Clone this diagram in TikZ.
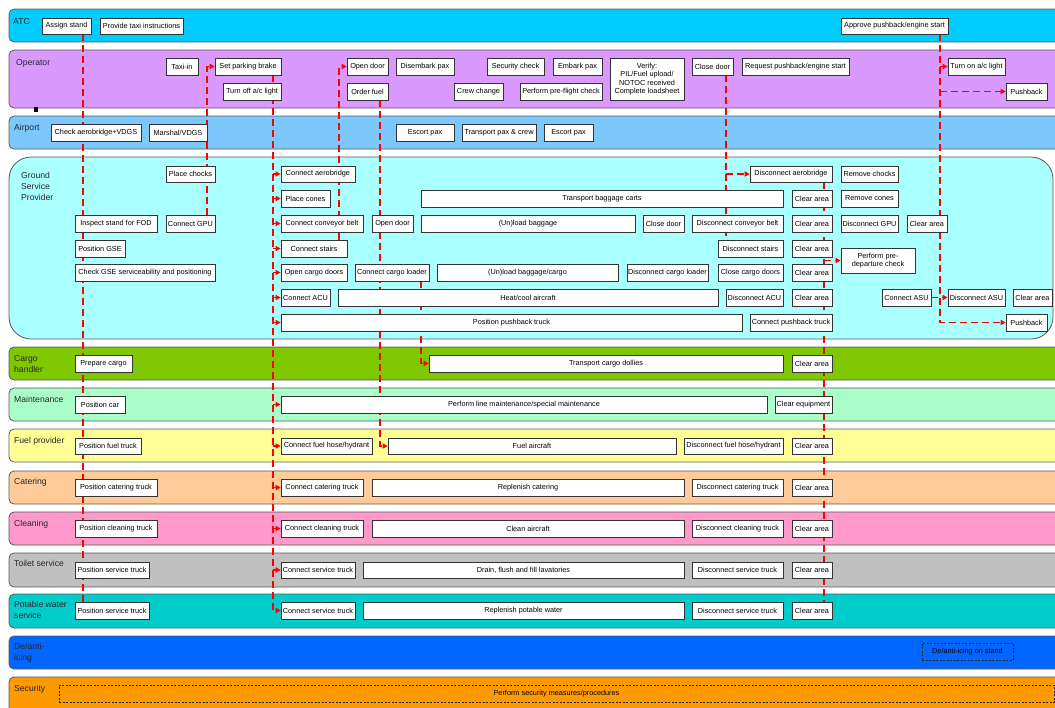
\documentclass[tikz,border=0pt]{standalone}
\usepackage{fontspec}
\setmainfont{Liberation Sans}
\usetikzlibrary{arrows.meta,shadows}
\pgfdeclarelayer{lanes}
\pgfdeclarelayer{links}
\pgfsetlayers{lanes,links,main}
\definecolor{cATC}{RGB}{0,204,255}
\definecolor{cOper}{RGB}{217,153,255}
\definecolor{cAirp}{RGB}{125,199,255}
\definecolor{cGSP}{RGB}{170,255,255}
\definecolor{cCargo}{RGB}{127,200,0}
\definecolor{cMaint}{RGB}{170,255,200}
\definecolor{cFuel}{RGB}{255,255,150}
\definecolor{cCater}{RGB}{255,204,153}
\definecolor{cClean}{RGB}{255,153,204}
\definecolor{cToil}{RGB}{192,192,192}
\definecolor{cWater}{RGB}{0,204,204}
\definecolor{cIce}{RGB}{0,102,255}
\definecolor{cSec}{RGB}{255,153,0}
\definecolor{cLaneEdge}{RGB}{90,90,90}
\definecolor{cLink}{RGB}{255,0,0}
\tikzset{
  lane/.style={draw=cLaneEdge, line width=0.8pt, rounded corners=5pt},
  lanelabel/.style={anchor=base west, inner sep=0pt, text=black!85, font=\fontsize{8.6}{11}\selectfont},
  box/.style={draw=black!80, fill=white, line width=0.6pt, inner sep=0.5pt, align=center,
    font=\fontsize{7.3}{8.4}\selectfont,
    drop shadow={shadow xshift=0.9pt, shadow yshift=-0.9pt, fill=black!40, opacity=1}},
  dbox/.style={draw=black!85, line width=0.5pt, dash pattern=on 2pt off 1.5pt, inner sep=0.5pt,
    align=center, font=\fontsize{7.3}{8.4}\selectfont},
  link/.style={draw=cLink, line width=1.6pt, dash pattern=on 7pt off 4pt},
  arr/.style={-{Triangle[length=5pt,width=5pt]}}
}
\newcommand{\Bx}[6]{\node[box, minimum width={(#4-#2)*1pt}, minimum height={(#5-#3)*1pt}] (#1) at ({(#2+#4)/2},{(#3+#5)/2}) {#6};}
\newcommand{\DBx}[6]{\node[dbox, minimum width={(#4-#2)*1pt}, minimum height={(#5-#3)*1pt}] (#1) at ({(#2+#4)/2},{(#3+#5)/2}) {#6};}
\begin{document}
\begin{tikzpicture}[x=1pt,y=-1pt]
\useasboundingbox (0,0) rectangle (1055,707);
\clip (0,0) rectangle (1055,707);
\begin{pgfonlayer}{lanes}
\fill[white] (0,0) rectangle (1055,707);
\draw[lane, fill=cATC] (9,9) rectangle (1075,42);
\draw[lane, fill=cOper] (9,50) rectangle (1075,108);
\draw[lane, fill=cAirp] (9,116) rectangle (1075,149);
\draw[lane, fill=cGSP, rounded corners=22pt] (9,157) rectangle (1053,339);
\draw[lane, fill=cCargo] (9,347) rectangle (1075,380);
\draw[lane, fill=cMaint] (9,388) rectangle (1075,421);
\draw[lane, fill=cFuel] (9,429) rectangle (1075,462);
\draw[lane, fill=cCater] (9,471) rectangle (1075,504);
\draw[lane, fill=cClean] (9,512) rectangle (1075,545);
\draw[lane, fill=cToil] (9,553) rectangle (1075,587);
\draw[lane, fill=cWater] (9,594) rectangle (1075,628);
\draw[lane, fill=cIce] (9,636) rectangle (1075,669);
\draw[lane, fill=cSec] (9,677) rectangle (1075,725);
\fill[black] (34,107) rectangle (38,112);
\node[lanelabel] (lATC) at (13,24) {ATC};
\node[lanelabel] (lOper) at (16,65) {Operator};
\node[lanelabel] (lAirp) at (14,130) {Airport};
\node[lanelabel] (lGSP) at (21,178) {\vtop{\hbox{Ground}\hbox{Service}\hbox{Provider}}};
\node[lanelabel] (lCargo) at (14,361) {\vtop{\hbox{Cargo}\hbox{handler}}};
\node[lanelabel] (lMaint) at (14,402.5) {Maintenance};
\node[lanelabel] (lFuel) at (14,443.5) {Fuel provider};
\node[lanelabel] (lCater) at (14,484) {Catering};
\node[lanelabel] (lClean) at (14,526) {Cleaning};
\node[lanelabel] (lToil) at (14,566.5) {Toilet service};
\node[lanelabel] (lWater) at (14,607.5) {\vtop{\hbox{Potable water}\hbox{service}}};
\node[lanelabel] (lIce) at (14,649) {\vtop{\hbox{De/anti-}\hbox{icing}}};
\node[lanelabel] (lSec) at (14,691.5) {Security};
\end{pgfonlayer}
% ATC
\Bx{assign}{42}{18}{91}{34}{Assign stand}
\Bx{taxiinstr}{100}{18}{183}{34}{Provide taxi instructions}
\Bx{approve}{841}{18}{948}{34}{Approve pushback/engine start}
% Operator
\Bx{taxiin}{166}{58}{198}{75}{Taxi-in}
\Bx{parkbrake}{215}{58}{281}{75}{Set parking brake}
\Bx{acoff}{223}{83}{281}{100}{Turn off a/c light}
\Bx{opendoorop}{347}{58}{388}{75}{Open door}
\Bx{orderfuel}{347}{83}{388}{100}{Order fuel}
\Bx{disembark}{396}{58}{454}{75}{Disembark pax}
\Bx{seccheck}{487}{58}{544}{75}{Security check}
\Bx{embark}{553}{58}{602}{75}{Embark pax}
\Bx{crewchange}{454}{83}{503}{100}{Crew change}
\Bx{preflight}{520}{83}{602}{100}{Perform pre-flight check}
\Bx{verify}{610}{58}{684}{100}{Verify:\\PIL/Fuel upload/\\NOTOC received\\Complete loadsheet}
\Bx{closedoorop}{692}{58}{733}{75}{Close door}
\Bx{reqpush}{742}{58}{849}{75}{Request pushback/engine start}
\Bx{acon}{948}{58}{1005}{75}{Turn on a/c light}
\Bx{pushop}{1006}{83}{1047}{100}{Pushback}
% Airport
\Bx{checkaero}{51}{124}{141}{141}{Check aerobridge+VDGS}
\Bx{marshal}{149}{124}{207}{141}{Marshal/VDGS}
\Bx{escorta}{396}{124}{454}{141}{Escort pax}
\Bx{transpax}{462}{124}{536}{141}{Transport pax \& crew}
\Bx{escortb}{544}{124}{593}{141}{Escort pax}
% GSP row 1
\Bx{chocks}{166}{166}{215}{182}{Place chocks}
\Bx{conaero}{281}{166}{355}{182}{Connect aerobridge}
\Bx{disaero}{750}{166}{832}{182}{Disconnect aerobridge}
\Bx{remchocks}{841}{166}{898}{182}{Remove chocks}
% row 2
\Bx{cones}{281}{190}{330}{207}{Place cones}
\Bx{bagcarts}{421}{190}{783}{207}{Transport baggage carts}
\Bx{clrb}{792}{190}{832}{207}{Clear area}
\Bx{remcones}{841}{190}{898}{207}{Remove cones}
% row 3
\Bx{fod}{75}{215}{157}{232}{Inspect stand for FOD}
\Bx{congpu}{166}{215}{215}{232}{Connect GPU}
\Bx{conbelt}{281}{215}{363}{232}{Connect conveyor belt}
\Bx{opendoorg}{372}{215}{413}{232}{Open door}
\Bx{unloadbag}{421}{215}{635}{232}{(Un)load baggage}
\Bx{closedoorg}{643}{215}{684}{232}{Close door}
\Bx{disbelt}{692}{215}{783}{232}{Disconnect conveyor belt}
\Bx{clrc}{792}{215}{832}{232}{Clear area}
\Bx{disgpu}{841}{215}{898}{232}{Disconnect GPU}
\Bx{clrcb}{907}{215}{947}{232}{Clear area}
% row 4
\Bx{posgse}{75}{240}{125}{257}{Position GSE}
\Bx{constairs}{281}{240}{347}{257}{Connect stairs}
\Bx{disstairs}{718}{240}{783}{257}{Disconnect stairs}
\Bx{clrd}{792}{240}{832}{257}{Clear area}
\Bx{predep}{841}{248}{915}{273}{Perform pre-\\departure check}
% row 5
\Bx{checkgse}{75}{264}{215}{281}{Check GSE serviceability and positioning}
\Bx{cargodoors}{281}{264}{347}{281}{Open cargo doors}
\Bx{conloader}{355}{264}{429}{281}{Connect cargo loader}
\Bx{unloadcargo}{437}{264}{618}{281}{(Un)load baggage/cargo}
\Bx{disloader}{627}{264}{708}{281}{Disconnect cargo loader}
\Bx{closecargo}{718}{264}{783}{281}{Close cargo doors}
\Bx{clre}{792}{264}{832}{281}{Clear area}
% row 6
\Bx{conacu}{281}{289}{330}{306}{Connect ACU}
\Bx{heatcool}{338}{289}{718}{306}{Heat/cool aircraft}
\Bx{disacu}{726}{289}{783}{306}{Disconnect ACU}
\Bx{clrf}{792}{289}{832}{306}{Clear area}
\Bx{conasu}{882}{289}{931}{306}{Connect ASU}
\Bx{disasu}{948}{289}{1005}{306}{Disconnect ASU}
\Bx{clrfb}{1013}{289}{1052}{306}{Clear area}
% row 7
\Bx{pptruck}{281}{314}{742}{331}{Position pushback truck}
\Bx{conpush}{750}{314}{832}{331}{Connect pushback truck}
\Bx{pushg}{1006}{314}{1047}{331}{Pushback}
% Cargo handler
\Bx{prepcargo}{75}{355}{132}{372}{Prepare cargo}
\Bx{dollies}{429}{355}{783}{372}{Transport cargo dollies}
\Bx{clrcargo}{792}{355}{832}{372}{Clear area}
% Maintenance
\Bx{poscar}{75}{396}{125}{413}{Position car}
\Bx{linemaint}{281}{396}{767}{413}{Perform line maintenance/special maintenance}
\Bx{clrequip}{775}{396}{832}{413}{Clear equipment}
% Fuel
\Bx{posfuel}{75}{438}{141}{454}{Position fuel truck}
\Bx{conhose}{281}{438}{372}{454}{Connect fuel hose/hydrant}
\Bx{fuelac}{388}{438}{676}{454}{Fuel aircraft}
\Bx{dishose}{684}{438}{783}{454}{Disconnect fuel hose/hydrant}
\Bx{clrfuel}{792}{438}{832}{454}{Clear area}
% Catering
\Bx{poscat}{75}{479}{157}{496}{Position catering truck}
\Bx{concat}{281}{479}{363}{496}{Connect catering truck}
\Bx{repcat}{372}{479}{684}{496}{Replenish catering}
\Bx{discat}{692}{479}{783}{496}{Disconnect catering truck}
\Bx{clrcat}{792}{479}{832}{496}{Clear area}
% Cleaning
\Bx{posclean}{75}{520}{157}{537}{Position cleaning truck}
\Bx{conclean}{281}{520}{363}{537}{Connect cleaning truck}
\Bx{cleanac}{372}{520}{684}{537}{Clean aircraft}
\Bx{disclean}{692}{520}{783}{537}{Disconnect cleaning truck}
\Bx{clrclean}{792}{520}{832}{537}{Clear area}
% Toilet
\Bx{postoil}{75}{562}{149}{578}{Position service truck}
\Bx{contoil}{281}{562}{355}{578}{Connect service truck}
\Bx{drain}{363}{562}{684}{578}{Drain, flush and fill lavatories}
\Bx{distoil}{692}{562}{783}{578}{Disconnect service truck}
\Bx{clrtoil}{792}{562}{832}{578}{Clear area}
% Potable water
\Bx{poswater}{75}{602}{149}{619}{Position service truck}
\Bx{conwater}{281}{602}{355}{619}{Connect service truck}
\Bx{repwater}{363}{602}{684}{619}{Replenish potable water}
\Bx{diswater}{692}{602}{783}{619}{Disconnect service truck}
\Bx{clrwater}{792}{602}{832}{619}{Clear area}
% dashed boxes
\DBx{deice}{922}{643}{1013}{660}{De/anti-icing on stand}
\DBx{security}{59}{685}{1054}{702}{Perform security measures/procedures}
% connector columns
\coordinate (cA) at (83,0);
\coordinate (cB) at (207,0);
\coordinate (cC) at (273,0);
\coordinate (cD) at (339,0);
\coordinate (cE) at (380,0);
\coordinate (cF) at (421,0);
\coordinate (cG) at (726,0);
\coordinate (cH) at (824,0);
\coordinate (cI) at (940,0);
\begin{pgfonlayer}{links}
\draw[link] (assign.south -| cA) -- (poswater.north -| cA);
\draw[link, arr] (congpu.north -| cB) |- (parkbrake.west);
\draw[link, arr] (parkbrake.south -| cC) |- (conwater.west);
\foreach \t in {conaero,cones,conbelt,constairs,cargodoors,conacu,pptruck,linemaint,conhose,concat,conclean,contoil}
  \draw[link, arr] (\t.west -| cC) -- (\t.west);
\draw[link, arr] (constairs.north -| cD) |- (opendoorop.west);
\draw[link, arr] (orderfuel.south -| cE) |- (fuelac.west);
\draw[link, arr] (conloader.south -| cF) |- (dollies.west);
\draw[link] (closedoorop.south -| cG) -- (disstairs.north -| cG);
\draw[link, arr] (disaero.west -| cG) -- (disaero.west);
\draw[link] (disaero.south -| cH) -- (clrwater.north -| cH);
\draw[link, arr] (predep.west -| cH) -- (predep.west);
\draw[link, arr] (approve.south -| cI) |- (pushg.west);
\draw[link, arr] (acon.west -| cI) -- (acon.west);
\draw[link, arr] (pushop.west -| cI) -- (pushop.west);
\draw[link, arr] (conasu.east) -- (disasu.west);
\end{pgfonlayer}
\end{tikzpicture}
\end{document}
